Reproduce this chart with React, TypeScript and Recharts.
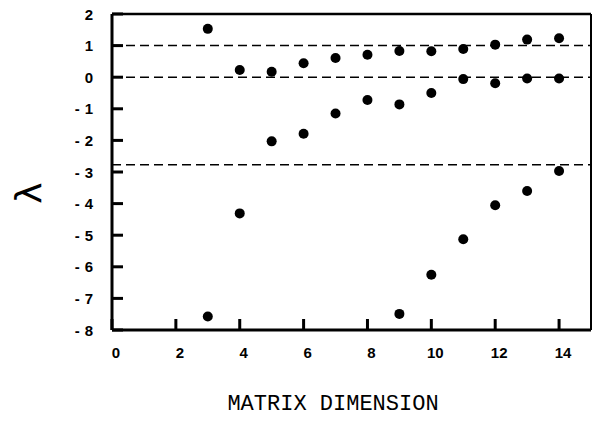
import { ReferenceLine, Scatter, ScatterChart, XAxis, YAxis } from "recharts"

// matrix dimension vs eigenvalue, three branches
const topBranch = [
  { n: 3, lambda: 1.53 },
  { n: 4, lambda: 0.23 },
  { n: 5, lambda: 0.17 },
  { n: 6, lambda: 0.44 },
  { n: 7, lambda: 0.61 },
  { n: 8, lambda: 0.71 },
  { n: 9, lambda: 0.83 },
  { n: 10, lambda: 0.82 },
  { n: 11, lambda: 0.89 },
  { n: 12, lambda: 1.03 },
  { n: 13, lambda: 1.19 },
  { n: 14, lambda: 1.23 },
]

const midBranch = [
  { n: 5, lambda: -2.03 },
  { n: 6, lambda: -1.79 },
  { n: 7, lambda: -1.15 },
  { n: 8, lambda: -0.72 },
  { n: 9, lambda: -0.86 },
  { n: 10, lambda: -0.5 },
  { n: 11, lambda: -0.06 },
  { n: 12, lambda: -0.19 },
  { n: 13, lambda: -0.04 },
  { n: 14, lambda: -0.04 },
]

const lowBranch = [
  { n: 3, lambda: -7.57 },
  { n: 4, lambda: -4.31 },
  { n: 9, lambda: -7.49 },
  { n: 10, lambda: -6.25 },
  { n: 11, lambda: -5.13 },
  { n: 12, lambda: -4.05 },
  { n: 13, lambda: -3.6 },
  { n: 14, lambda: -2.97 },
]

const dashedLevels = [1, 0, -2.77]
const xTicks = [0, 2, 4, 6, 8, 10, 12, 14]
const yTicks = [2, 1, 0, -1, -2, -3, -4, -5, -6, -7, -8]

const tickFont = { fontFamily: "Liberation Sans, Arial, sans-serif", fontWeight: 700, fontSize: 15 }

const Dot = (props: any) => <circle cx={props.cx} cy={props.cy} r={5} fill="#000" />

const YTick = (props: any) => {
  const { x, y, payload } = props
  const v = payload.value
  return (
    <text x={x + (v < 0 ? 3 : -2)} y={y} textAnchor="end" dominantBaseline="central" fill="#000" letterSpacing={v < 0 ? 5 : 0} style={tickFont}>
      {String(v)}
    </text>
  )
}

const XTick = (props: any) => {
  const { x, y, payload } = props
  return (
    <text x={x + 4} y={y} textAnchor="middle" dominantBaseline="central" fill="#000" style={tickFont}>
      {String(payload.value)}
    </text>
  )
}

export default function App() {
  return (
    <div style={{ position: "absolute", left: 0, top: 0, width: 593, height: 423, background: "#fff" }}>
      <ScatterChart width={593} height={423} margin={{ top: 14, right: 2, left: 0, bottom: 0 }}>
        <XAxis
          type="number"
          dataKey="n"
          domain={[0, 15]}
          ticks={xTicks}
          height={93}
          tickSize={-11}
          tickMargin={33}
          tickLine={{ stroke: "#000", strokeWidth: 3 }}
          tick={<XTick />}
          axisLine={{ stroke: "#000", strokeWidth: 3 }}
        />
        <YAxis
          type="number"
          dataKey="lambda"
          domain={[-8, 2]}
          ticks={yTicks}
          width={112}
          tickSize={-11}
          tickMargin={28}
          tickLine={{ stroke: "#000", strokeWidth: 3 }}
          tick={<YTick />}
          axisLine={{ stroke: "#000", strokeWidth: 3 }}
        />
        <ReferenceLine y={2} stroke="#000" strokeWidth={2.5} />
        <ReferenceLine x={15} stroke="#000" strokeWidth={2} />
        {dashedLevels.map((lv) => (
          <ReferenceLine key={lv} y={lv} stroke="#000" strokeWidth={1.5} strokeDasharray="9 5" />
        ))}
        <Scatter data={topBranch} shape={Dot} isAnimationActive={false} />
        <Scatter data={midBranch} shape={Dot} isAnimationActive={false} />
        <Scatter data={lowBranch} shape={Dot} isAnimationActive={false} />
      </ScatterChart>
      <div
        style={{
          position: "absolute",
          left: 29,
          top: 193,
          transform: "translate(-50%, -50%) rotate(-90deg)",
          fontFamily: "DejaVu Sans, sans-serif",
          fontSize: 36,
          lineHeight: 1,
          color: "#000",
        }}
      >
        λ
      </div>
      <div
        style={{
          position: "absolute",
          left: 333,
          top: 405,
          transform: "translate(-50%, -50%)",
          fontFamily: "Liberation Mono, Courier New, monospace",
          fontSize: 22,
          lineHeight: 1,
          whiteSpace: "nowrap",
          color: "#000",
        }}
      >
        MATRIX DIMENSION
      </div>
    </div>
  )
}
